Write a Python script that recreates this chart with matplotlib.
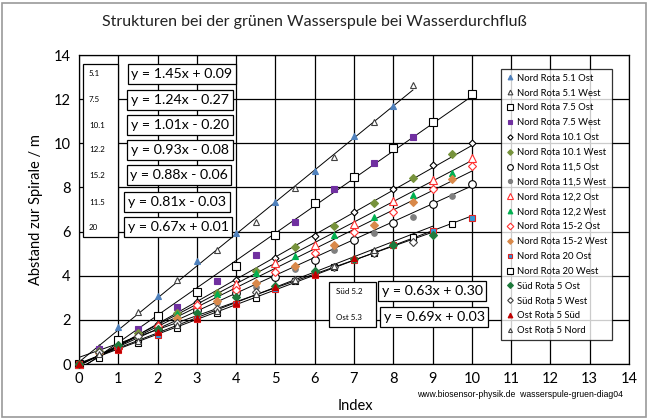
import matplotlib
matplotlib.use("Agg")
import numpy as np
import matplotlib.pyplot as plt
from matplotlib.patches import Rectangle

plt.rcParams['font.family'] = ['Lato', 'DejaVu Sans']

W, H = 649, 419

# --- data: index (x) and distance to spiral (y) per series ---
x_ost10 = [0, 1, 2, 3, 4, 5, 6, 7, 8, 9, 10]
x_west10 = [0.5, 1.5, 2.5, 3.5, 4.5, 5.5, 6.5, 7.5, 8.5, 9.5]

nord51_ost_x = [0, 1, 2, 3, 4, 5, 6, 7, 8]
nord51_ost_y = [0, 1.69, 3.10, 4.68, 5.94, 7.33, 8.75, 10.33, 11.69]
nord51_west_x = [0.5, 1.5, 2.5, 3.5, 4.5, 5.5, 6.5, 7.5, 8.5]
nord51_west_y = [0.79, 2.34, 3.80, 5.17, 6.43, 7.97, 9.36, 10.98, 12.63]

nord75_ost_y = [0, 1.09, 2.17, 3.25, 4.44, 5.85, 7.28, 8.46, 9.77, 10.95, 12.22]
nord75_west_x = [0.5, 1.5, 2.5, 3.5, 4.5, 5.5, 6.5, 7.5, 8.5]
nord75_west_y = [0.70, 1.57, 2.60, 3.78, 4.95, 6.43, 7.91, 9.09, 10.30]

nord101_ost_y = [0, 0.80, 1.80, 2.80, 3.80, 4.82, 5.80, 6.90, 7.95, 9.02, 10.03]
nord101_west_y = [0.60, 1.40, 2.33, 3.20, 4.23, 5.28, 6.25, 7.31, 8.41, 9.51]

nord115_ost_y = [0, 0.78, 1.60, 2.45, 3.20, 3.93, 4.71, 5.60, 6.40, 7.23, 8.16]
nord115_west_y = [0.45, 1.22, 2.00, 2.75, 3.50, 4.29, 5.17, 5.95, 6.68, 7.61]

nord122_ost_y = [0, 0.85, 1.75, 2.70, 3.62, 4.56, 5.39, 6.35, 7.40, 8.34, 9.32]
nord122_west_y = [0.55, 1.30, 2.25, 3.15, 4.11, 4.89, 5.86, 6.68, 7.66, 8.67]

nord152_ost_y = [0, 0.78, 1.70, 2.67, 3.35, 4.18, 5.01, 6.00, 6.90, 7.95, 8.95]
nord152_west_y = [0.50, 1.25, 2.07, 2.84, 3.65, 4.44, 5.40, 6.30, 7.33, 8.37]

nord20_ost_y = [0, 0.65, 1.30, 2.05, 2.70, 3.38, 4.05, 4.72, 5.39, 6.04, 6.60]
nord20_west_y = [0.29, 0.97, 1.65, 2.33, 3.01, 3.78, 4.38, 5.04, 5.74, 6.34]

sued5_ost_x = [0, 1, 2, 3, 4, 5, 6, 7, 8, 9]
sued5_ost_y = [0, 0.85, 1.60, 2.30, 3.05, 3.55, 4.21, 4.75, 5.40, 5.84]
sued5_west_x = [0.5, 1.5, 2.5, 3.5, 4.5, 5.5, 6.5, 7.5, 8.5]
sued5_west_y = [0.55, 1.25, 1.85, 2.50, 3.25, 3.80, 4.40, 5.05, 5.55]

ost5_sued_x = [0, 1, 2, 3, 4, 5, 6, 7]
ost5_sued_y = [0, 0.70, 1.45, 2.10, 2.75, 3.50, 4.10, 4.80]
ost5_nord_x = [0.5, 1.5, 2.5, 3.5, 4.5, 5.5, 6.5, 7.5]
ost5_nord_y = [0.45, 1.05, 1.75, 2.40, 3.15, 3.80, 4.45, 5.15]

# trendlines (slope, intercept, x end) as printed on the chart
fit_names = ['5.1', '7.5', '10.1', '12.2', '15.2', '11.5', '20']
fit_slope = [1.45, 1.24, 1.01, 0.93, 0.88, 0.81, 0.67]
fit_icpt = [0.09, -0.27, -0.20, -0.08, -0.06, -0.03, 0.01]
fit_xend = [8.5, 10, 10, 10, 10, 10, 10]

fit2_names = ['Süd 5.2', 'Ost 5.3']
fit2_slope = [0.63, 0.69]
fit2_icpt = [0.30, 0.03]
fit2_xend = [9, 9]

fig = plt.figure(figsize=(W / 100, H / 100), dpi=100)
fig.patches.append(Rectangle((2 / W, 2 / H), (W - 5) / W, (H - 5) / H,
                             transform=fig.transFigure, fill=False,
                             edgecolor='#9a9a9a', lw=1.2))

ax = fig.add_axes([79 / W, 1 - 364 / H, 550 / W, 309 / H])
ax.set_xlim(0, 14)
ax.set_ylim(0, 14)
ax.set_xticks(range(0, 15))
ax.set_yticks(range(0, 15, 2))
ax.grid(True, color='black', lw=0.9)
ax.set_axisbelow(True)
for s in ax.spines.values():
    s.set_color('black')
    s.set_linewidth(0.9)
ax.tick_params(length=0, labelsize=10.5, pad=6)

# trendlines
for k, b, xe in zip(fit_slope + fit2_slope, fit_icpt + fit2_icpt, fit_xend + fit2_xend):
    xx = np.array([0, xe])
    ax.plot(xx, k * xx + b, color='black', lw=0.7, zorder=2)

ms = 4.5
series = [
    (nord51_ost_x, nord51_ost_y, dict(marker='^', mfc='#4f81bd', mec='#4f81bd'), 'Nord Rota 5.1 Ost'),
    (nord51_west_x, nord51_west_y, dict(marker='^', mfc='white', mec='#404040'), 'Nord Rota 5.1 West'),
    (x_ost10, nord75_ost_y, dict(marker='s', mfc='white', mec='black', ms=6), 'Nord Rota 7.5 Ost'),
    (nord75_west_x, nord75_west_y, dict(marker='s', mfc='#7030a0', mec='#7030a0'), 'Nord Rota 7.5 West'),
    (x_ost10, nord101_ost_y, dict(marker='D', mfc='white', mec='black', ms=3.5), 'Nord Rota 10.1 Ost'),
    (x_west10, nord101_west_y, dict(marker='D', mfc='#77933c', mec='#77933c', ms=3.8), 'Nord Rota 10.1 West'),
    (x_ost10, nord115_ost_y, dict(marker='o', mfc='white', mec='black', ms=5.5), 'Nord Rota 11,5 Ost'),
    (x_west10, nord115_west_y, dict(marker='o', mfc='#7f7f7f', mec='#7f7f7f', ms=4), 'Nord Rota 11,5 West'),
    (x_ost10, nord122_ost_y, dict(marker='^', mfc='white', mec='#ff3030', ms=5.5), 'Nord Rota 12,2 Ost'),
    (x_west10, nord122_west_y, dict(marker='^', mfc='#00b050', mec='#00b050'), 'Nord Rota 12,2 West'),
    (x_ost10, nord152_ost_y, dict(marker='D', mfc='white', mec='#ff3030', ms=4.5), 'Nord Rota 15-2 Ost'),
    (x_west10, nord152_west_y, dict(marker='D', mfc='#d9894a', mec='#d9894a', ms=3.8), 'Nord Rota 15-2 West'),
    (x_ost10, nord20_ost_y, dict(marker='s', mfc='#2f97d6', mec='#e02020'), 'Nord Rota 20 Ost'),
    (x_west10, nord20_west_y, dict(marker='s', mfc='white', mec='black', ms=5), 'Nord Rota 20 West'),
    (sued5_ost_x, sued5_ost_y, dict(marker='D', mfc='#1e7a3c', mec='#1e7a3c', ms=4), 'Süd Rota 5 Ost'),
    (sued5_west_x, sued5_west_y, dict(marker='D', mfc='white', mec='#404040', ms=3.8), 'Süd Rota 5 West'),
    (ost5_sued_x, ost5_sued_y, dict(marker='^', mfc='#c00000', mec='#c00000'), 'Ost Rota 5 Süd'),
    (ost5_nord_x, ost5_nord_y, dict(marker='^', mfc='white', mec='#404040', ms=3.8), 'Ost Rota 5 Nord'),
]
handles = []
for xs, ys, st, lab in series:
    st = dict(st)
    st.setdefault('ms', ms)
    h, = ax.plot(xs, ys, ls='none', mew=0.8, label=lab, zorder=3, clip_on=False, **st)
    handles.append(h)

leg = fig.legend(handles=handles, loc='upper left',
                 bbox_to_anchor=(501 / W, 1 - 69 / H), fontsize=6.8,
                 frameon=True, fancybox=False, handlelength=0.8, markerscale=0.75,
                 handletextpad=0.35, labelspacing=0.62, borderpad=0.5,
                 borderaxespad=0)
leg.get_frame().set_edgecolor('black')
leg.get_frame().set_linewidth(0.9)

# title and axis labels
fig.text(314 / W, 1 - 22 / H, 'Strukturen bei der grünen Wasserspule bei Wasserdurchfluß',
         ha='center', va='center', fontsize=11.5, color='#222222')
fig.text(36 / W, 1 - 210 / H, 'Abstand zur Spirale / m', rotation=90,
         ha='center', va='center', fontsize=10.5)
fig.text(355 / W, 1 - 406 / H, 'Index', ha='center', va='center', fontsize=10.5)
fig.text(520 / W, 1 - 394 / H, 'www.biosensor-physik.de  wasserspule-gruen-diag04',
         ha='center', va='center', fontsize=6.2, family='Liberation Sans')

# fit label box (upper left)
fig.patches.append(Rectangle((83 / W, 1 - 237 / H), 35 / W, 173 / H,
                             transform=fig.transFigure, fill=True, facecolor='white',
                             edgecolor='black', lw=0.9, zorder=5))
name_y = [74, 100, 125, 150, 175, 202, 227]
eq_cx = [182, 180, 180, 180, 179, 177, 178]
for nm, k, b, yy, cx in zip(fit_names, fit_slope, fit_icpt, name_y, eq_cx):
    fig.text(89 / W, 1 - yy / H, nm, ha='left', va='center', fontsize=5.8, zorder=6)
    sign = '+' if b >= 0 else '-'
    fig.text(cx / W, 1 - yy / H, f'y = {k:.2f}x {sign} {abs(b):.2f}', ha='center',
             va='center', fontsize=10.2, zorder=6,
             bbox=dict(boxstyle='square,pad=0.25', fc='white', ec='black', lw=0.9))

# fit label box (lower)
fig.patches.append(Rectangle((329 / W, 1 - 327 / H), 47 / W, 45 / H,
                             transform=fig.transFigure, fill=True, facecolor='white',
                             edgecolor='black', lw=0.9, zorder=5))
for nm, k, b, yy, cx in zip(fit2_names, fit2_slope, fit2_icpt, [291, 317], [432, 434]):
    fig.text(336 / W, 1 - yy / H, nm, ha='left', va='center', fontsize=5.8, zorder=6)
    sign = '+' if b >= 0 else '-'
    fig.text(cx / W, 1 - yy / H, f'y = {k:.2f}x {sign} {abs(b):.2f}', ha='center',
             va='center', fontsize=10.2, zorder=6,
             bbox=dict(boxstyle='square,pad=0.25', fc='white', ec='black', lw=0.9))

fig.savefig('out.png', dpi=100)
